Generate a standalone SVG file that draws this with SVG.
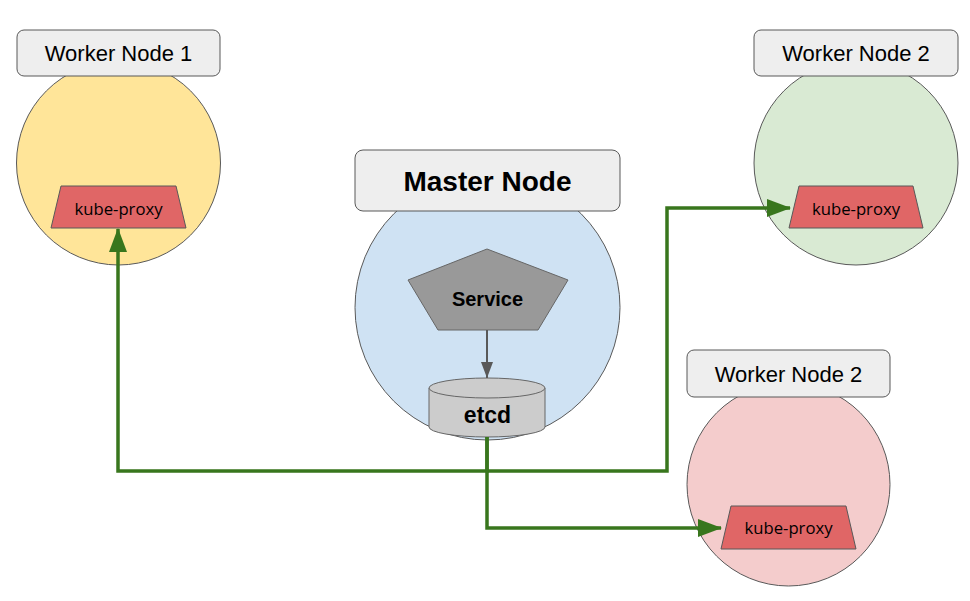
<svg xmlns="http://www.w3.org/2000/svg" width="970" height="601" viewBox="0 0 970 601">
<style>
.circ{stroke:#595959;stroke-width:1}
.lbl{fill:#eeeeee;stroke:#595959;stroke-width:1}
.trap{fill:#e06666;stroke:#595959;stroke-width:1}
.t{font-family:"Liberation Sans",Arial,sans-serif;fill:#000;text-anchor:middle}
.kp{font-family:"Open Sans","Liberation Sans",sans-serif;font-size:16.7px;fill:#000;text-anchor:middle}
.b{font-weight:bold}
.g{fill:none;stroke:#38761d;stroke-width:3.5}
</style>
<defs>
<marker id="ga" markerUnits="userSpaceOnUse" markerWidth="24" markerHeight="18" refX="23" refY="9" orient="auto"><path d="M0,0 L24,9 L0,18 z" fill="#38761d"/></marker>
<marker id="ka" markerUnits="userSpaceOnUse" markerWidth="16" markerHeight="12" refX="16" refY="6" orient="auto"><path d="M0,0 L16,6 L0,12 z" fill="#595959"/></marker>
</defs>
<rect width="970" height="601" fill="#ffffff"/>
<g id="worker1">
<circle class="circ" cx="118.5" cy="163" r="102" fill="#ffe599"/>
<rect class="lbl" x="17" y="30" width="203" height="46" rx="7"/>
<text class="t" x="118.5" y="61" font-size="22">Worker Node 1</text>
<polygon class="trap" points="61,186 176,186 186,228 51,228"/>
<text class="kp" x="118.5" y="215">kube-proxy</text>
</g>
<g id="worker2a">
<circle class="circ" cx="856" cy="163" r="102" fill="#d9ead3"/>
<rect class="lbl" x="754" y="30" width="204" height="46" rx="7"/>
<text class="t" x="856" y="61" font-size="22">Worker Node 2</text>
<polygon class="trap" points="799,186 913,186 923,228 789,228"/>
<text class="kp" x="856" y="215">kube-proxy</text>
</g>
<g id="worker2b">
<circle class="circ" cx="788.5" cy="484.5" r="101.5" fill="#f4cccc"/>
<rect class="lbl" x="687" y="350" width="203" height="47" rx="7"/>
<text class="t" x="788.5" y="382" font-size="22">Worker Node 2</text>
<polygon class="trap" points="731,506 846,506 856,549 721,549"/>
<text class="kp" x="788.5" y="534">kube-proxy</text>
</g>
<g id="master">
<circle class="circ" cx="487.5" cy="307.5" r="132.5" fill="#cfe2f3"/>
<rect class="lbl" x="355" y="150" width="265" height="61" rx="8"/>
<text class="t b" x="487.5" y="191" font-size="28">Master Node</text>
</g>
<g id="service">
<polygon points="487,249 568,280 538,330 438,330 408,280" fill="#999999" stroke="#666666" stroke-width="1"/>
<text class="t b" x="487.5" y="306" font-size="20">Service</text>
</g>
<g id="etcd">
<path d="M429,388 V427 A58,10 0 0 0 545,427 V388" fill="#cccccc" stroke="#666666" stroke-width="1"/>
<ellipse cx="487" cy="388" rx="58" ry="10" fill="#cccccc" stroke="#666666" stroke-width="1"/>
<text class="t b" x="487.5" y="423" font-size="23">etcd</text>
</g>
<g id="connectors">
<line x1="487" y1="330" x2="487" y2="378" stroke="#595959" stroke-width="2" marker-end="url(#ka)"/>
<path class="g" d="M487,437 V471 H118 V229" marker-end="url(#ga)"/>
<path class="g" d="M487,471 H667 V208 H790" marker-end="url(#ga)"/>
<path class="g" d="M487,437 V528 H721" marker-end="url(#ga)"/>
</g>
</svg>
